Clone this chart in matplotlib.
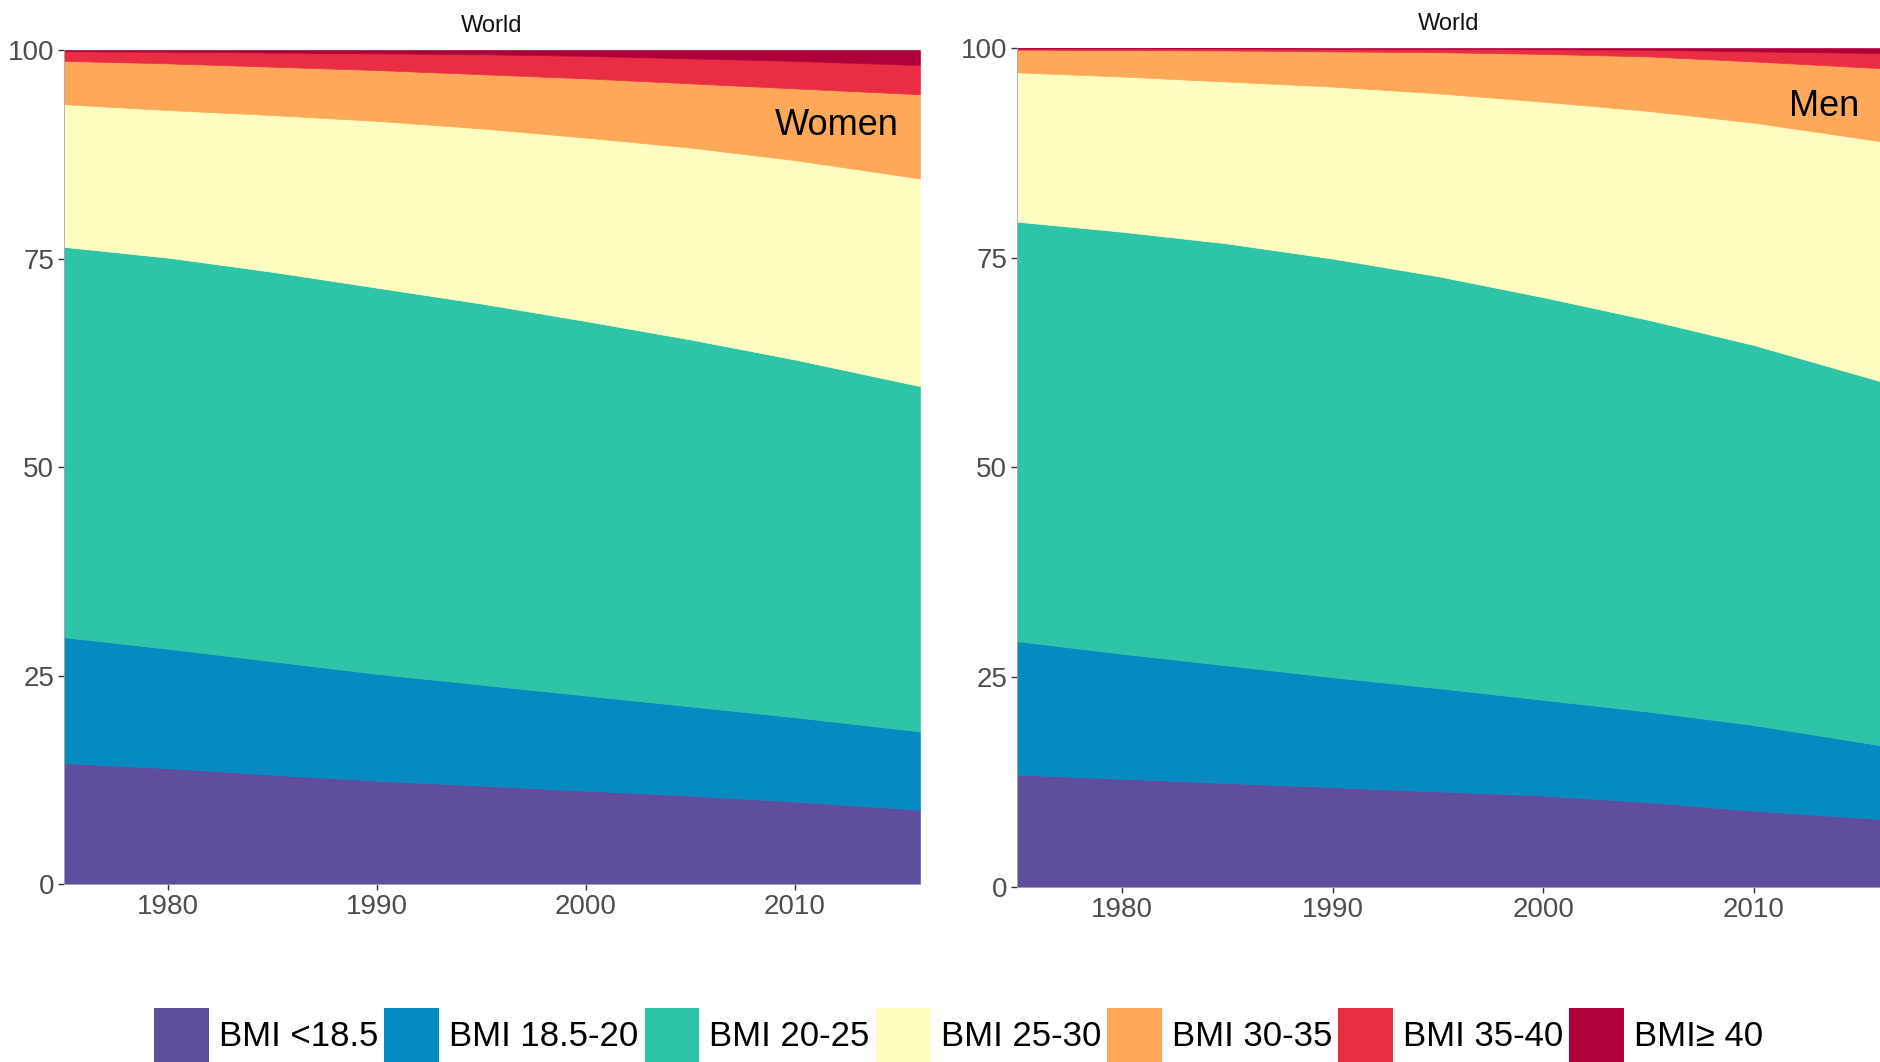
import matplotlib.pyplot as plt
from matplotlib.patches import Patch

plt.rcParams['font.family'] = ['Liberation Sans', 'DejaVu Sans']

# Años con estimaciones
anios = [1975, 1980, 1985, 1990, 1995, 2000, 2005, 2010, 2016]

categorias = ['BMI <18.5', 'BMI 18.5-20', 'BMI 20-25', 'BMI 25-30',
              'BMI 30-35', 'BMI 35-40', 'BMI\u2265 40']
colores = ['#5F4E9E', '#058AC1', '#2DC4A7', '#FFFDC0', '#FEA95A', '#E92E44', '#AF0039']

# Mujeres: % de la población en cada categoría de BMI
mujeres_bajo = [14.5, 13.9, 13.1, 12.4, 11.8, 11.2, 10.6, 9.9, 8.9]
mujeres_18_20 = [15.1, 14.3, 13.6, 12.8, 12.1, 11.4, 10.7, 10.1, 9.4]
mujeres_20_25 = [46.8, 46.9, 46.7, 46.3, 45.7, 44.9, 44.0, 42.9, 41.4]
mujeres_25_30 = [17.1, 17.7, 18.8, 20.0, 21.0, 22.0, 23.0, 23.9, 24.9]
mujeres_30_35 = [5.2, 5.6, 5.8, 6.1, 6.5, 7.1, 7.7, 8.6, 10.1]
mujeres_35_40 = [1.15, 1.4, 1.7, 2.0, 2.4, 2.7, 3.0, 3.3, 3.5]
mujeres_40 = [0.15, 0.2, 0.3, 0.4, 0.5, 0.7, 1.0, 1.3, 1.8]

# Hombres: % de la población en cada categoría de BMI
hombres_bajo = [13.4, 12.9, 12.4, 11.9, 11.4, 10.9, 10.1, 9.1, 8.1]
hombres_18_20 = [15.9, 14.9, 14.0, 13.1, 12.3, 11.4, 10.8, 10.2, 8.8]
hombres_20_25 = [50.0, 50.3, 50.3, 49.9, 49.1, 48.0, 46.7, 45.3, 43.4]
hombres_25_30 = [17.8, 18.5, 19.3, 20.5, 21.8, 23.3, 24.9, 26.5, 28.6]
hombres_30_35 = [2.7, 3.15, 3.7, 4.2, 4.9, 5.7, 6.5, 7.3, 8.7]
hombres_35_40 = [0.15, 0.2, 0.25, 0.3, 0.4, 0.55, 0.8, 1.2, 1.8]
hombres_40 = [0.05, 0.05, 0.05, 0.1, 0.1, 0.15, 0.2, 0.4, 0.6]

mujeres = [mujeres_bajo, mujeres_18_20, mujeres_20_25, mujeres_25_30,
           mujeres_30_35, mujeres_35_40, mujeres_40]
hombres = [hombres_bajo, hombres_18_20, hombres_20_25, hombres_25_30,
           hombres_30_35, hombres_35_40, hombres_40]


def graficar_area(ax, series, etiqueta, y_etiqueta):
    """
    Grafica las áreas apiladas de cada categoría de BMI para un sexo

    ax = eje donde graficar
    series = lista con los % de cada categoría
    etiqueta = texto que se escribe arriba a la derecha
    y_etiqueta = altura (en %) de ese texto
    """
    ax.stackplot(anios, *series, colors=colores, edgecolor='face', linewidth=0.5)
    ax.set_xlim(1975, 2016)
    ax.set_ylim(0, 100)
    ax.set_xticks([1980, 1990, 2000, 2010])
    ax.set_yticks([0, 25, 50, 75, 100])
    ax.tick_params(labelsize=20, labelcolor='#4D4D4D', color='#333333',
                   length=4, width=1, pad=3)
    for lado in ['top', 'right']:
        ax.spines[lado].set_visible(False)
    for lado in ['left', 'bottom']:
        ax.spines[lado].set_color('#AAAAAA')
        ax.spines[lado].set_linewidth(0.6)
    ax.set_title('World', fontsize=17, pad=13, color='#111111')
    ax.text(2015, y_etiqueta, etiqueta, fontsize=26, ha='right', va='center')


fig = plt.figure(figsize=(18.8, 10.62), dpi=100)
ax1 = fig.add_axes([0.034, 0.1676, 0.4553, 0.7853])
ax2 = fig.add_axes([0.541, 0.1648, 0.459, 0.790])

graficar_area(ax1, mujeres, 'Women', 91)
graficar_area(ax2, hombres, 'Men', 93)

handles = [Patch(facecolor=c, edgecolor='none') for c in colores]
fig.legend(handles, categorias, loc='lower center', bbox_to_anchor=(0.51, 0.0),
           ncol=7, frameon=False, fontsize=25, handlelength=1.58, handleheight=2.0,
           handletextpad=0.29, columnspacing=0.17, borderpad=0, borderaxespad=0)

fig.savefig('out.png', dpi=100)
